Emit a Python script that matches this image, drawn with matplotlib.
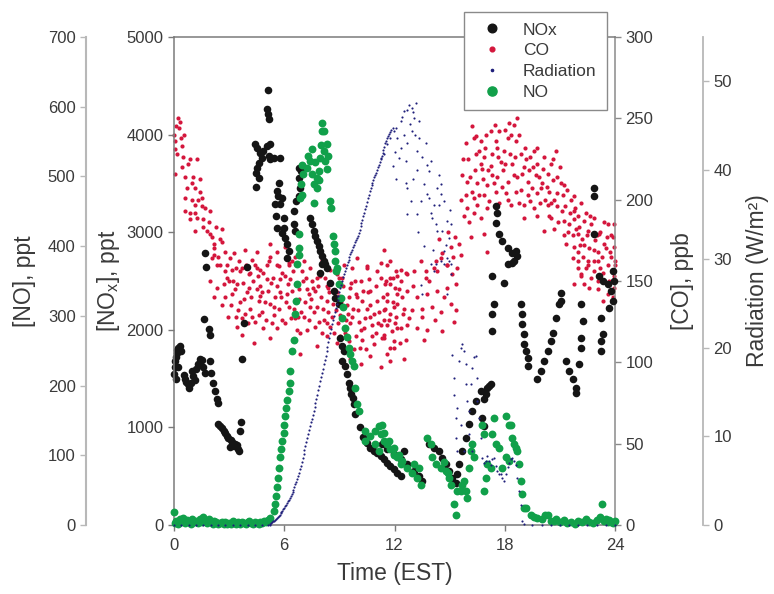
import numpy as np
import matplotlib
matplotlib.use("Agg")
import matplotlib.pyplot as plt
from matplotlib.lines import Line2D

plt.rcParams['font.family'] = ['Liberation Sans', 'DejaVu Sans']
plt.rcParams['mathtext.fontset'] = 'custom'
plt.rcParams['mathtext.rm'] = 'Liberation Sans'
plt.rcParams['mathtext.it'] = 'Liberation Sans:italic'

# ---------------- data (time in hours EST, value) ----------------
x_ticks = [0, 6, 12, 18, 24]
nox_ticks = [0, 1000, 2000, 3000, 4000, 5000]
no_ticks = [0, 100, 200, 300, 400, 500, 600, 700]
co_ticks = [0, 50, 100, 150, 200, 250, 300]
rad_ticks = [0, 10, 20, 30, 40, 50]

nox_pts = [
    (0.00,1550),(0.03,1620),(0.06,1680),(0.10,1720),(0.14,1760),(0.19,1790),(0.24,1810),(0.30,1830),
    (0.36,1780),(0.24,1620),(0.10,1500),(0.52,1540),(0.60,1500),(0.68,1470),(0.76,1440),(0.84,1400),
    (0.92,1460),(0.98,1580),(1.05,1530),(1.13,1490),(1.22,1600),(1.30,1650),(1.40,1700),(1.50,1690),
    (1.58,1620),(1.66,1560),(1.62,2110),(1.70,2790),(1.72,2640),(1.92,2010),(1.97,1950),(1.95,1680),
    (2.04,1560),(2.12,1460),(2.22,1370),(2.32,1290),(2.40,1250),(2.42,1030),(2.52,1010),(2.60,990),
    (2.70,960),(2.78,940),(2.88,910),(2.96,890),(3.05,800),(3.10,870),(3.18,850),(3.25,810),(3.33,830),
    (3.42,820),(3.50,780),(3.55,760),(3.60,960),(3.65,1060),(3.70,1700),(3.80,2070),(3.97,2640),
    (4.42,3905),(4.47,3611),(4.47,3468),(4.54,3867),(4.54,3662),(4.60,3560),(4.65,3714),(4.69,3816),
    (4.78,3765),(4.87,3833),(5.05,3885),(5.24,3902),(5.15,3782),(5.24,3748),(5.42,3765),(5.75,3758),
    (5.09,4455),(5.05,4260),(5.09,4210),(5.15,4158),(5.69,3509),(5.60,3424),(5.64,3372),(5.51,3287),
    (5.78,3287),(5.87,3355),(5.56,3167),(5.96,3150),(5.60,3047),(5.96,3047),(5.87,2996),(6.05,2945),
    (6.15,2877),(6.24,2809),(6.15,2740),(6.51,3082),(6.60,3014),(6.51,3219),(6.65,3321),(6.78,3662),
    (6.90,3628),(6.78,3560),(6.87,3457),(6.78,3372),(7.42,3150),(7.51,3082),(7.60,3014),(7.69,2962),
    (7.78,2911),(7.87,2860),(7.96,2808),(8.06,2757),(8.15,2706),(8.24,2672),(8.06,2675),(8.33,2637),
    (7.93,2586),(8.51,2484),(8.69,2399),(8.78,2330),(8.96,2262),(9.05,1920),(9.15,1835),(9.24,1784),
    (9.15,1681),(9.33,1630),(9.42,1545),(9.51,1459),(9.60,1407),(9.64,1340),(9.75,1305),(9.78,1237),
    (9.87,1135),(10.10,1000),(10.30,900),(10.50,840),(10.69,792),(10.87,758),(11.06,741),(11.24,707),
    (11.42,673),(11.60,639),(11.78,605),(11.96,571),(12.15,536),(12.33,502),(11.33,827),(11.60,776),
    (11.96,725),(12.33,673),(12.51,758),(12.69,622),(13.05,553),(13.33,502),(13.51,451),(13.87,827),
    (14.15,792),(14.42,758),(14.60,690),(14.78,622),(14.96,553),(15.15,485),(15.33,434),(15.42,520),
    (15.51,622),(15.69,758),(15.87,895),(16.05,1032),(16.24,1168),(16.42,1271),(16.69,1373),(16.87,1288),
    (16.96,1340),(17.15,1425),(16.78,1100),(16.87,1015),(17.06,1407),(17.24,1445),
    (17.33,2552),(17.42,2262),(17.33,2160),(17.33,1989),(17.96,2484),(18.15,2672),(18.42,2689),
    (18.69,2757),(18.60,2808),(17.51,3270),(17.60,3201),(17.51,3099),(17.69,2980),(17.87,2911),
    (18.15,2843),(18.42,2791),(18.51,2706),(18.87,2262),(18.96,2160),(18.96,2057),(19.05,1955),
    (19.05,1852),(19.15,1784),(19.24,1715),(19.24,1630),(19.78,1493),(19.96,1578),(20.15,1681),
    (20.33,1784),(20.51,1886),(20.60,1971),(20.78,2125),(20.96,2262),(21.05,2381),(21.05,2296),
    (21.33,1681),(21.51,1578),(21.69,1493),(21.87,1407),(21.87,1356),(22.06,1647),(22.15,1817),
    (22.15,1920),(22.24,2091),(22.15,2262),(22.87,3457),(22.87,3372),(22.87,2980),(23.15,2552),
    (23.33,2501),(23.60,2467),(23.78,2399),(23.87,2296),(23.69,2227),(23.24,2125),(23.33,1955),
    (23.24,1886),(23.24,1784),(23.90,2600),(23.95,2500),
]

no_pts = [
    (0.00,18),(0.03,3),(0.10,6),(0.20,2),(0.30,8),(0.40,4),(0.50,10),(0.60,3),(0.70,7),(0.80,5),
    (0.90,2),(1.00,9),(1.10,4),(1.20,6),(1.30,3),(1.40,8),(1.50,5),(1.60,12),(1.70,6),(1.80,3),
    (1.90,9),(2.00,5),(2.10,2),(2.20,6),(2.30,4),(2.40,1),(2.50,3),(2.60,5),(2.70,2),(2.80,4),
    (2.90,1),(3.00,3),(3.10,2),(3.20,6),(3.30,3),(3.40,1),(3.50,4),(3.60,2),(3.70,5),(3.80,3),
    (3.90,1),(4.00,4),(4.10,6),(4.20,3),(4.30,2),(4.40,5),(4.50,3),(4.60,2),(4.70,4),(4.80,3),
    (4.90,6),(5.00,4),(5.10,7),(5.24,10),(5.42,20),(5.51,30),(5.56,42),(5.60,54),(5.64,68),(5.69,82),
    (5.75,97),(5.82,109),(5.87,120),(5.96,132),(6.00,144),(6.05,156),(6.11,168),(6.15,180),(6.24,192),
    (6.33,204),(6.33,221),(6.42,250),(6.51,266),(6.60,302),(6.65,321),(6.69,345),(6.69,374),(6.78,388),
    (6.78,398),(6.78,417),(6.87,469),(6.91,489),(6.96,474),(6.96,517),(7.02,503),(7.24,512),(7.42,522),
    (7.51,503),(7.60,489),(7.64,462),(7.78,498),(7.78,484),(7.87,508),(7.96,527),(8.06,565),(8.06,577),
    (8.15,536),(8.18,565),(8.24,522),(8.33,546),(8.51,465),(8.55,455),(8.65,415),(8.73,403),(8.78,393),
    (8.78,379),(8.84,364),(7.30,530),(7.50,540),(7.70,520),(8.00,545),(7.90,495),(8.40,530),(8.30,510),
    (8.87,369),(8.96,345),(9.09,326),(9.20,312),(9.15,297),(9.33,283),(9.42,269),(9.51,254),(9.60,245),
    (9.69,235),(9.78,228),(9.87,197),(9.96,173),(10.06,164),(10.42,135),(10.42,120),(10.69,128),
    (10.96,135),(11.15,142),(11.24,130),(11.42,120),(11.60,116),(11.78,109),(11.96,101),(12.15,97),
    (12.33,87),(10.96,116),(11.15,106),(11.33,144),(11.42,132),(11.69,120),(11.96,111),(12.24,101),
    (12.42,92),(12.69,82),(12.96,75),(13.24,68),(13.42,58),(13.05,87),(13.33,82),(13.78,125),(13.96,116),
    (14.06,97),(14.24,87),(14.51,82),(14.78,77),(14.96,68),(15.05,58),(15.24,30),(15.33,15),(15.42,49),
    (15.69,58),(15.87,49),(15.96,39),(16.15,106),(16.24,116),(16.05,82),(16.33,97),(15.78,63),(15.60,49),
    (14.70,90),(14.90,75),(16.87,49),(16.96,68),(17.24,82),(17.33,130),(17.42,154),(17.51,116),
    (17.69,111),(18.05,156),(18.24,144),(18.42,125),(18.51,116),(18.05,97),(18.24,92),(18.69,106),
    (18.78,87),(18.87,63),(18.96,44),(19.15,25),(19.42,15),(19.78,10),(20.33,15),(20.69,6),(16.78,144),
    (16.87,130),(17.05,87),(17.87,82),(18.33,144),(18.60,111),(19.05,25),(19.60,12),(20.00,8),
    (20.20,14),(20.50,6),(20.80,9),(21.00,4),(21.20,7),(21.40,3),(21.60,5),(21.80,2),(22.00,6),
    (22.20,4),(22.40,8),(22.60,5),(22.80,3),(23.00,7),(23.20,12),(23.30,30),(23.40,6),(23.50,9),
    (23.60,4),(23.70,7),(23.80,5),(23.90,3),(24.00,6),
]

co_pts = [
    (0.02,240),(0.05,236),(0.05,231),(0.05,216),(0.10,245),(0.15,228),(0.20,250),(0.29,244),(0.33,248),
    (0.38,238),(0.42,233),(0.42,220),(0.51,226),(0.55,240),(0.60,214),(0.60,201),(0.60,193),(0.69,207),
    (0.78,222),(0.87,225),(0.87,192),(0.87,188),(0.96,200),(1.05,214),(1.15,207),(1.15,197),(1.15,192),
    (1.15,181),(1.24,225),(1.24,189),(1.42,213),(1.42,205),(1.51,201),(1.51,196),(1.60,188),(1.60,183),
    (1.78,181),(1.96,193),(1.96,179),(2.06,177),(2.15,173),(2.60,182),(2.60,174),(2.78,168),(2.06,164),
    (2.33,160),(2.78,156),(1.00,210),(1.30,200),(1.70,195),(1.90,186),(2.20,170),(2.40,165),(2.50,176),
    (2.90,160),(2.30,183),
    (3.24,167),(3.87,169),(4.51,168),(5.24,173),(5.60,168),(6.05,171),(5.15,162),(3.15,157),(3.60,156),
    (4.15,155),(4.51,158),(4.87,155),(5.60,160),(6.24,160),(6.42,162),(9.69,158),(10.51,159),(8.96,152),
    (11.06,156),(11.42,169),(11.78,162),(12.15,153),
    (2.15,166),(2.51,160),(3.05,164),(3.69,158),(4.24,163),(4.69,157),(5.24,165),(5.69,159),(6.24,161),
    (6.87,166),(7.42,158),(8.06,163),(8.51,157),(9.24,160),(9.96,164),(10.51,158),(11.24,161),(12.33,157),
    (1.96,150),(2.33,146),(2.87,152),(3.42,148),(4.06,154),(4.51,145),(5.05,151),(5.60,147),(6.06,153),
    (6.69,149),(7.24,145),(7.78,152),(8.33,147),(8.87,154),(9.60,146),(10.15,150),(10.69,144),(11.24,152),
    (11.78,148),(12.24,145),
    (2.15,140),(2.60,135),(3.15,142),(3.60,137),(4.15,133),(4.69,141),(5.24,136),(5.78,143),(6.24,134),
    (6.78,139),(7.33,142),(7.78,134),(8.33,138),(8.87,143),(9.42,135),(9.96,140),(10.51,133),(11.06,138),
    (11.60,142),(12.15,136),
    (2.96,128),(3.42,122),(3.87,130),(4.42,125),(4.87,121),(5.42,129),(6.06,124),(6.60,127),(7.24,120),
    (7.60,131),(8.15,126),(8.51,122),(9.06,129),(9.60,124),(10.15,120),(10.69,128),(11.24,123),(11.78,130),
    (12.33,121),
    (3.69,117),(4.33,112),(5.24,115),(6.87,118),(7.78,110),(8.33,116),(8.87,112),(9.33,118),(9.78,108),
    (10.24,114),(10.87,111),(11.42,117),(11.96,109),(6.87,105),(9.60,102),(10.15,99),(10.69,104),
    (11.24,97),(11.78,101),
    (3.30,145),(3.80,139),(4.30,150),(4.80,131),(5.40,152),(5.90,126),(6.40,144),(6.90,131),(7.50,150),
    (8.00,140),(8.60,128),(9.10,137),(9.70,128),(10.30,144),(10.80,123),(11.50,133),(12.00,124),
    (3.50,132),(4.00,124),(4.60,138),(5.10,144),(5.70,133),(6.20,148),(6.70,120),(7.00,150),(7.40,134),
    (8.20,152),(8.70,118),(9.20,147),(9.90,116),(10.40,127),(11.00,147),(11.70,126),(12.40,140),
    (3.00,150),(3.90,160),(4.70,147),(5.50,140),(6.50,156),(7.10,162),(7.90,125),(8.40,131),(9.00,141),
    (9.50,113),(10.00,132),(10.60,151),(11.30,115),(11.90,152),
    (2.70,148),(3.10,135),(3.40,158),(3.70,127),(4.10,146),(4.40,160),(4.80,143),(5.00,126),(5.30,149),
    (5.60,121),(5.90,155),(6.10,137),(6.35,127),(6.60,165),(6.80,145),(7.05,128),(7.20,152),(7.45,139),
    (7.65,122),(7.85,147),(8.10,133),(8.25,159),(8.45,143),(8.65,136),(8.90,124),(9.15,152),(9.35,126),
    (9.55,140),(9.75,133),(9.85,150),(10.05,125),(10.25,138),(10.45,108),(10.65,135),(10.90,130),
    (11.10,124),(11.35,140),(11.55,150),(11.85,119),(12.10,128),(12.45,130),
    (2.80,140),(3.20,150),(3.55,162),(3.95,143),(4.25,128),(4.55,153),(4.95,137),(5.35,124),(5.75,151),
    (6.15,142),(6.55,133),(6.95,156),(7.35,126),(7.70,144),(8.05,118),(8.40,146),(8.80,132),(9.25,121),
    (9.65,149),(10.10,109),(10.55,143),(11.00,118),(11.45,126),(11.90,137),(12.30,112),
    (3.35,128),(3.75,149),(4.20,140),(4.65,129),(5.05,160),(5.45,134),(5.85,140),(6.30,151),(6.75,128),
    (7.15,137),(7.55,146),(7.95,153),(8.35,124),(8.75,139),(9.05,116),(9.45,130),(9.90,142),(10.35,121),
    (10.75,116),(11.15,131),(11.60,105),(12.05,146),
    (11.60,160),(11.78,152),(11.51,148),(12.06,156),(12.33,150),(12.69,154),(13.05,156),(13.42,162),
    (13.69,152),(14.15,158),(14.51,164),(14.87,160),(15.15,154),(15.33,148),(14.87,146),(14.33,144),
    (13.78,142),(13.24,140),(12.69,144),(12.15,142),(11.60,138),(11.42,132),(11.96,134),(12.51,133),
    (12.96,132),(13.51,133),(14.06,134),(14.51,131),(15.05,136),(15.33,132),(11.60,123),(12.15,121),
    (12.69,123),(13.24,121),(13.78,120),(14.60,119),(15.24,125),(11.42,115),(11.96,113),(12.60,114),
    (13.60,114),(12.51,102),(11.78,109),(12.60,155),(13.69,156),(14.24,162),(14.60,167),(15.05,171),
    (15.51,173),(15.60,166),(14.87,160),(14.33,156),(13.00,147),(13.90,150),(14.70,140),(15.40,158),
    (15.20,165),(14.40,176),(14.90,180),(15.30,177),(13.50,128),(14.20,126),(12.80,127),
    (16.24,245),(18.69,250),(18.51,246),(18.24,247),(16.33,238),(16.69,236),(17.24,242),(17.69,242),
    (18.15,238),(18.60,236),(17.60,232),(16.42,228),(16.87,226),(17.33,228),(17.96,230),(18.87,228),
    (19.60,230),(20.15,226),(20.78,230),(16.69,222),(17.24,221),(17.78,223),(18.42,222),(19.05,220),
    (19.78,222),(20.51,222),(15.96,211),(16.51,210),(17.05,209),(17.60,214),(18.15,211),(18.69,214),
    (19.24,211),(19.87,214),(20.33,216),(20.87,214),(21.24,209),(15.87,203),(16.33,201),(16.87,203),
    (17.51,205),(18.05,204),(18.60,205),(19.24,203),(19.78,204),(20.42,205),(21.15,203),(21.78,202),
    (15.96,195),(16.51,197),(17.05,195),(18.33,197),(19.05,197),(19.60,195),(20.33,197),(20.87,196),
    (21.78,193),(22.15,198),(16.05,186),(16.69,189),(19.05,189),(19.78,190),(20.51,189),(21.24,187),
    (21.78,188),(22.33,187),(22.87,189),(23.42,186),(23.96,185),(16.15,177),(16.87,179),(20.15,181),
    (20.69,182),(21.42,180),(21.96,179),(22.51,181),(23.15,179),(23.78,178),(17.05,168),(21.33,173),
    (21.78,171),(22.33,172),(22.87,169),(23.42,173),(23.96,171),(21.96,162),(22.51,160),(23.05,162),
    (23.60,160),(23.98,162),(22.15,154),(22.69,152),(23.33,155),(23.96,153),(21.69,164),(21.96,158),
    (22.15,153),(22.51,162),(22.87,156),(22.33,148),(23.05,150),(23.60,142),(23.96,146),(23.33,138),
    (23.96,156),(21.78,148),
    (15.70,215),(15.80,190),(16.00,225),(16.20,205),(16.40,218),(16.60,230),(16.80,213),(17.00,240),
    (17.10,218),(17.40,210),(17.50,236),(17.70,198),(17.90,218),(18.00,243),(18.30,228),(18.50,215),
    (18.80,240),(18.90,206),(19.10,232),(19.30,218),(19.40,226),(19.50,207),(19.70,215),(19.90,198),
    (20.00,210),(20.20,200),(20.40,190),(20.60,212),(20.70,200),(20.90,186),(21.00,220),(21.10,193),
    (21.30,196),(21.50,185),(21.60,200),(21.90,182),(22.00,190),(22.20,176),(22.40,192),(22.60,170),
    (22.70,185),(22.90,175),(23.10,168),(23.20,180),(23.30,165),(23.50,170),(23.70,150),(23.80,165),
    (23.90,140),(23.99,160),(23.60,185),(22.00,168),(22.40,158),
    (15.60,200),(15.75,225),(15.90,235),(16.10,214),(16.30,192),(16.45,239),(16.60,203),(16.75,219),
    (16.95,232),(17.15,199),(17.30,215),(17.45,246),(17.65,226),(17.85,208),(18.00,222),(18.20,200),
    (18.35,240),(18.55,226),(18.75,198),(18.95,216),(19.15,225),(19.35,199),(19.55,220),(19.75,232),
    (19.95,207),(20.10,219),(20.30,208),(20.50,198),(20.65,225),(20.85,204),(21.05,210),(21.20,178),
    (21.40,206),(21.55,192),(21.70,178),(21.85,195),(22.05,183),(22.25,165),(22.45,178),(22.65,190),
    (22.85,162),(23.00,178),(23.20,158),(23.40,150),(23.55,177),(23.75,168),(23.90,177),(22.10,172),
    (22.60,146),(23.10,145),
]

rad_pts = [
    (0.0,0),(0.4,0),(0.8,0),(1.2,0),(1.6,0),(2.0,0),(2.4,0),(2.8,0),(3.2,0),(3.6,0),(4.0,0),(4.4,0),
    (4.8,0),(5.1,0),
    (5.20,0.0),(5.30,0.2),(5.40,0.4),(5.50,0.6),(5.60,0.8),(5.70,1.0),(5.80,1.3),(5.90,1.6),(6.00,1.9),
    (6.10,2.3),(6.20,2.7),(6.30,3.0),(6.40,3.5),(6.50,4.0),(6.60,4.6),(6.70,5.2),(6.80,5.9),(6.90,6.7),
    (7.00,7.6),(7.10,8.5),(7.20,9.4),(7.30,10.3),(7.40,11.2),(7.50,12.0),(7.60,12.8),(7.70,13.7),
    (7.80,14.7),(7.90,15.7),(8.00,16.7),(8.10,17.6),(8.20,18.6),(8.30,19.6),(8.40,20.6),(8.50,21.6),
    (8.60,22.6),(8.70,23.5),(8.80,24.5),(8.90,25.4),(9.00,26.3),(9.10,27.1),(9.20,27.9),(9.30,28.6),
    (9.40,29.3),(9.50,29.9),(9.60,30.5),(9.70,31.0),(9.80,31.6),(9.90,32.1),(10.00,32.6),(10.10,33.3),
    (10.20,34.0),(10.30,34.8),(10.40,35.6),(10.50,36.4),(10.60,37.2),(10.70,38.0),(10.80,38.6),
    (10.90,39.2),(11.00,39.7),(11.10,40.3),(11.20,40.9),(11.30,41.6),(11.40,42.3),(11.50,43.0),
    (11.60,43.6),(11.70,44.1),(11.80,44.5),(11.90,44.8),
    (5.25,0.1),(5.35,0.3),(5.45,0.5),(5.55,0.7),(5.65,0.9),(5.75,1.15),(5.85,1.45),(5.95,1.75),
    (6.05,2.1),(6.15,2.5),(6.25,2.85),(6.35,3.25),(6.45,3.75),(6.55,4.3),(6.65,4.9),(6.75,5.55),
    (6.85,6.3),(6.95,7.15),(7.05,8.05),(7.15,8.95),(7.25,9.85),(7.35,10.75),(7.45,11.6),(7.55,12.4),
    (7.65,13.25),(7.75,14.2),(7.85,15.2),(7.95,16.2),(8.05,17.15),(8.15,18.1),(8.25,19.1),(8.35,20.1),
    (8.45,21.1),(8.55,22.1),(8.65,23.05),(8.75,24.0),(8.85,24.95),(8.95,25.85),(9.05,26.7),(9.15,27.5),
    (9.25,28.25),(9.35,28.95),(9.45,29.6),(9.55,30.2),(9.65,30.75),(9.75,31.3),(9.85,31.85),
    (9.95,32.35),(10.05,32.95),(10.15,33.65),(10.25,34.4),(10.35,35.2),(10.45,36.0),(10.55,36.8),
    (10.65,37.6),(10.75,38.3),(10.85,38.9),(10.95,39.45),(11.05,40.0),(11.15,40.6),(11.25,41.25),
    (11.35,41.95),(11.45,42.65),(11.55,43.3),(11.65,43.85),(11.75,44.3),
    (11.24,41.4),(11.42,41.8),(11.60,42.9),(11.78,43.6),(11.96,44.4),(12.06,44.8),(12.33,45.5),
    (12.51,46.7),(12.69,46.8),(12.96,47.0),(13.15,47.6),(13.06,45.9),(12.87,45.2),(13.33,45.5),
    (12.96,44.4),(13.33,43.6),(12.15,43.6),(12.33,42.5),(12.24,41.4),(12.60,41.0),(13.24,42.1),
    (13.78,40.6),(13.87,39.9),(14.42,39.5),(14.51,38.4),(12.60,38.6),(12.69,38.0),(13.60,38.4),
    (13.78,37.3),(13.42,36.5),(13.87,36.9),(14.15,36.1),(14.51,37.3),(14.42,36.1),(14.06,34.6),
    (14.24,33.9),(14.87,34.3),(15.06,33.9),(14.96,32.4),(14.78,31.6),(14.60,33.1),(12.69,35.0),
    (13.24,35.0),(13.96,35.2),(14.33,33.1),(14.69,30.9),(14.87,30.1),(15.06,29.4),(14.69,29.4),
    (14.51,29.8),(13.96,29.4),(14.15,28.6),(14.96,29.8),(15.06,28.3),(13.42,27.1),(13.51,26.0),
    (14.87,26.0),(14.24,29.4),(12.40,46.0),(12.80,47.3),(13.00,46.5),(13.10,44.0),(12.70,43.0),
    (13.20,40.0),(13.50,41.5),(13.00,39.0),(12.50,44.0),(11.90,40.5),(12.10,39.0),(12.00,42.0),
    (13.70,43.0),(14.00,41.0),(14.30,38.0),(14.70,36.5),(15.00,35.5),(13.30,33.0),(12.90,36.5),
    (13.60,31.5),(14.10,31.0),
    (15.15,19.2),(15.24,16.6),(15.24,14.7),(15.33,12.1),(15.33,9.8),(15.42,8.3),(15.42,13.2),(15.51,18.5),
    (15.60,20.0),(15.60,11.3),(15.69,20.4),(15.78,19.6),(15.78,8.3),(15.87,18.1),(15.87,15.9),(15.96,14.0),
    (16.06,12.8),(16.06,10.2),(16.15,15.9),(16.24,17.7),(16.24,8.3),(16.33,18.9),(16.42,19.0),(16.51,16.6),
    (16.51,14.0),(16.60,12.1),(16.69,9.8),(16.78,7.5),(16.87,7.0),(16.96,7.2),(17.06,7.8),(17.15,7.2),
    (17.24,6.8),(17.33,7.4),(17.42,7.6),(17.51,6.6),(17.60,6.1),(17.69,5.8),(17.78,5.7),(17.87,5.3),
    (17.96,5.0),(18.06,5.8),(18.15,6.5),(18.24,7.0),(18.33,7.4),(18.42,7.6),(18.51,7.2),(18.60,6.8),
    (18.69,5.3),(18.78,3.8),(18.87,2.3),(18.96,0.5),(19.05,0.1),
    (19.5,0),(20.0,0),(20.5,0),(21.0,0),(21.5,0),(22.0,0),(22.5,0),(23.0,0),(23.5,0),(24.0,0),
]

nox = np.array(nox_pts)
no = np.array(no_pts)
co = np.array(co_pts)
rad = np.array(rad_pts)

# ---------------- styling ----------------
c_nox = '#151515'
c_co = '#d4163c'
c_rad = '#1f1f7a'
c_no = '#11a04a'
txt = '#3a3a3a'
spine_dark = '#7a7a7a'
spine_light = '#b8b8b8'

fig = plt.figure(figsize=(7.74, 5.94), dpi=100, facecolor='white')
L, R, T, B = 174, 615, 37, 525
ax = fig.add_axes([L / 774, 1 - B / 594, (R - L) / 774, (B - T) / 594])
ax_co = ax.twinx()
ax_rad = ax.twinx()
ax_no = ax.twinx()

# draw order: CO at bottom, then NOx, NO, radiation
ax_co.set_zorder(1)
ax.set_zorder(2)
ax_no.set_zorder(3)
ax_rad.set_zorder(4)
for a in (ax, ax_co, ax_rad, ax_no):
    a.patch.set_visible(False)

ax_co.scatter(co[:, 0], co[:, 1], s=9, color=c_co, linewidths=0, clip_on=False)
ax.scatter(nox[:, 0], nox[:, 1], s=30, color=c_nox, linewidths=0, clip_on=False)
ax_no.scatter(no[:, 0], no[:, 1], s=32, color=c_no, linewidths=0, clip_on=False)
ax_rad.scatter(rad[:, 0], rad[:, 1], s=2.4, color=c_rad, linewidths=0, clip_on=False)

# x axis
ax.set_xlim(0, 24)
ax.set_xticks(x_ticks)
ax.set_xlabel('Time (EST)', fontsize=16.5, color=txt, labelpad=7)

W = R - L
# NOx axis (inner left)
ax.set_ylim(0, 5000)
ax.set_yticks(nox_ticks)
ax.set_ylabel('[NO$_\\mathrm{x}$], ppt', fontsize=16.5, color=txt)
ax.yaxis.set_label_coords((122 - L) / W, 0.5)
for s in ('left', 'bottom', 'top'):
    ax.spines[s].set_color(spine_dark)
    ax.spines[s].set_linewidth(1.1)
ax.spines['right'].set_visible(False)
ax.tick_params(axis='both', direction='out', length=4, width=1, colors=spine_dark,
               labelcolor=txt, labelsize=12)
ax.tick_params(axis='x', pad=5)

# CO axis (inner right)
ax_co.set_ylim(0, 300)
ax_co.set_yticks(co_ticks)
ax_co.set_ylabel('[CO], ppb', fontsize=16.5, color=txt)
ax_co.yaxis.set_label_coords((671 - L) / W, 0.5)
for s in ('left', 'bottom', 'top'):
    ax_co.spines[s].set_visible(False)
ax_co.spines['right'].set_color('#8a8a8a')
ax_co.spines['right'].set_linewidth(1.1)
ax_co.tick_params(axis='y', direction='out', length=4, width=1, colors='#8a8a8a',
                  labelcolor=txt, labelsize=12)

# Radiation axis (outer right)
ax_rad.set_ylim(0, 55)
ax_rad.set_yticks(rad_ticks)
ax_rad.spines['right'].set_position(('axes', (703 - L) / W))
for s in ('left', 'bottom', 'top'):
    ax_rad.spines[s].set_visible(False)
ax_rad.spines['right'].set_color(spine_light)
ax_rad.spines['right'].set_linewidth(1.3)
ax_rad.set_ylabel('Radiation (W/m\u00b2)', fontsize=16.5, color=txt)
ax_rad.yaxis.set_label_coords((746 - L) / W, 0.5)
ax_rad.tick_params(axis='y', direction='out', length=4, width=1, colors=spine_light,
                   labelcolor=txt, labelsize=12)

# NO axis (outer left)
ax_no.set_ylim(0, 700)
ax_no.set_yticks(no_ticks)
ax_no.yaxis.tick_left()
ax_no.yaxis.set_label_position('left')
ax_no.spines['left'].set_position(('axes', (86 - L) / W))
for s in ('right', 'bottom', 'top'):
    ax_no.spines[s].set_visible(False)
ax_no.spines['left'].set_visible(True)
ax_no.spines['left'].set_color(spine_light)
ax_no.spines['left'].set_linewidth(1.5)
ax_no.set_ylabel('[NO], ppt', fontsize=16.5, color=txt)
ax_no.yaxis.set_label_coords((36 - L) / W, 0.5)
ax_no.tick_params(axis='y', direction='out', length=4, width=1, colors=spine_light,
                  labelcolor=txt, labelsize=12)

for a in (ax_co, ax_rad, ax_no):
    a.set_xlim(0, 24)
    a.tick_params(axis='x', which='both', bottom=False, top=False, labelbottom=False)

# legend
handles = [
    Line2D([], [], linestyle='none', marker='o', markersize=6.2, color=c_nox),
    Line2D([], [], linestyle='none', marker='o', markersize=3.4, color=c_co),
    Line2D([], [], linestyle='none', marker='o', markersize=1.6, color=c_rad),
    Line2D([], [], linestyle='none', marker='o', markersize=6.6, color=c_no),
]
labels = ['NOx', 'CO', 'Radiation', 'NO']
leg = fig.legend(handles, labels, loc='upper left',
                 bbox_to_anchor=(464 / 774, 1 - 12 / 594), borderaxespad=0,
                 fontsize=12.5, frameon=True, fancybox=False, framealpha=1,
                 edgecolor='#8a8a8a', borderpad=0.6, labelspacing=0.32,
                 handlelength=2.05, handletextpad=0.75)
leg.get_frame().set_linewidth(1.0)
for t in leg.get_texts():
    t.set_color(txt)

fig.savefig('out.png', dpi=100, facecolor='white')
